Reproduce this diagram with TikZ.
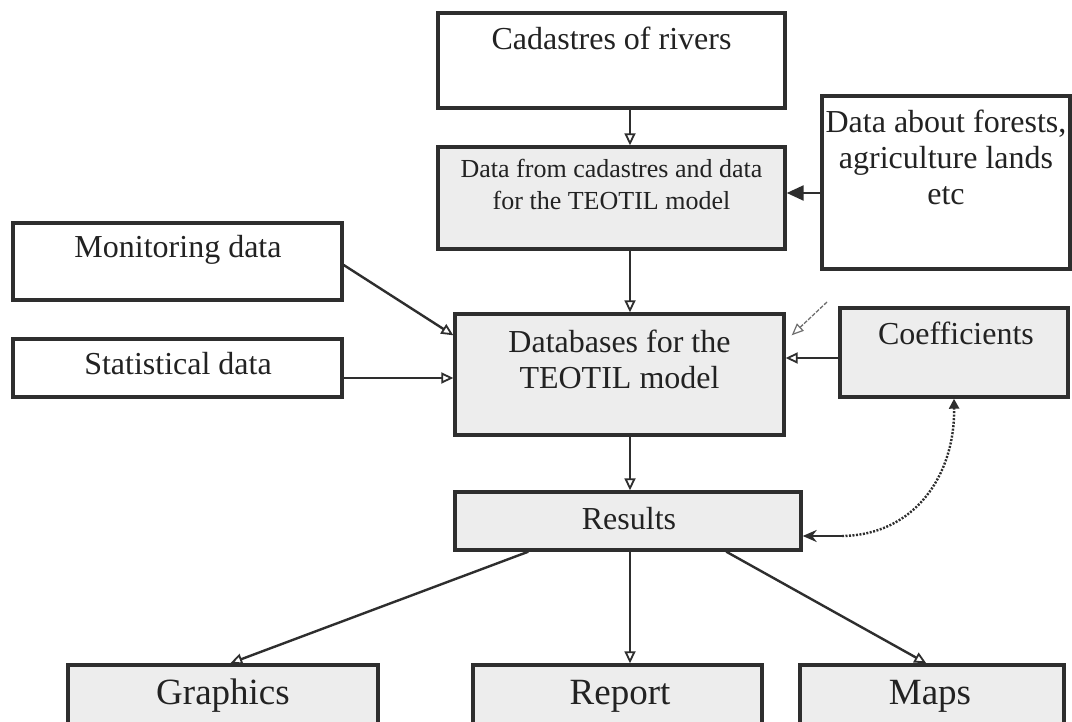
\documentclass[tikz,border=0pt]{standalone}
\usepackage{fontspec}
\setmainfont{Liberation Serif}
\usetikzlibrary{arrows.meta,calc}
\definecolor{ink}{HTML}{2E2E2E}
\definecolor{boxfill}{HTML}{EDEDED}
\definecolor{txt}{HTML}{222222}
\begin{document}
\begin{tikzpicture}[x=1pt,y=-1pt,
  box/.style={draw=ink, line width=3.4pt, rectangle, inner sep=0pt},
  wbox/.style={box, fill=white},
  gbox/.style={box, fill=boxfill},
  lbl/.style={text=txt, font=\fontsize{32}{36}\selectfont, align=center, inner sep=0pt},
  slbl/.style={lbl, font=\fontsize{26}{32}\selectfont},
  blbl/.style={lbl, font=\fontsize{37}{40}\selectfont},
  conn/.style={draw=ink, line width=2.4pt},
  oarr/.style={conn, -{Triangle[open, length=12pt, width=11pt, line width=1.8pt]}},
  farr/.style={conn, -{Triangle[length=17pt, width=15pt]}},
  sarr/.style={conn, -{Stealth[length=14pt, width=12pt]}},
  thinarr/.style={draw=ink!70, line width=1.3pt, dash pattern=on 4pt off 1.5pt, -{Triangle[open, length=12pt, width=10pt, line width=1.2pt]}},
  dotarr/.style={draw=ink, line width=2.4pt, dash pattern=on 2pt off 1.5pt, -{Triangle[length=10pt, width=10pt]}}
]
\useasboundingbox (0,0) rectangle (1072,722);
\clip (0,0) rectangle (1072,722);
\fill[white] (0,0) rectangle (1072,722);

% boxes
\node[wbox, minimum width=347pt, minimum height=95pt]  (cad)  at (611.5,60.5) {};
\node[gbox, minimum width=347pt, minimum height=102pt] (dfc)  at (611.5,198) {};
\node[wbox, minimum width=248pt, minimum height=173pt] (for)  at (946,182.5) {};
\node[wbox, minimum width=329pt, minimum height=77pt]  (mon)  at (177.5,261.5) {};
\node[wbox, minimum width=329pt, minimum height=58pt]  (stat) at (177.5,368) {};
\node[gbox, minimum width=329pt, minimum height=121pt] (db)   at (619.5,374.5) {};
\node[gbox, minimum width=228pt, minimum height=89pt]  (coef) at (954,352.5) {};
\node[gbox, minimum width=346pt, minimum height=58pt]  (res)  at (628,521) {};
\node[gbox, minimum width=310pt, minimum height=70pt]  (gra)  at (223,700) {};
\node[gbox, minimum width=289pt, minimum height=70pt]  (rep)  at (617.5,700) {};
\node[gbox, minimum width=264pt, minimum height=70pt]  (maps) at (932,700) {};

% texts
\node[lbl]  (cadT)  at (611.5,38)  {Cadastres of rivers};
\node[slbl] (dfcT)  at (611.5,184) {Data from cadastres and data\\for the TEOTIL model};
\node[lbl]  (forT)  at (946,157)   {Data about forests,\\agriculture lands\\etc};
\node[lbl]  (monT)  at (178,250)   {Monitoring data};
\node[lbl]  (statT) at (178,364)   {Statistical data};
\node[lbl]  (dbT)   at (619.5,359) {Databases for the\\TEOTIL model};
\node[lbl]  (coefT) at (956,333)   {Coefficients};
\node[lbl]  (resT)  at (629,519)   {Results};
\node[blbl] (graT)  at (223,696)   {Graphics};
\node[blbl] (repT)  at (620,696)   {Report};
\node[blbl] (mapsT) at (930,696)   {Maps};

% connectors
\coordinate (axis) at (630,0);
\draw[oarr] (cad.south -| axis) -- (dfc.north -| axis);
\draw[oarr] (dfc.south -| axis) -- (db.north -| axis);
\draw[oarr] (db.south -| axis) -- (res.north -| axis);
\draw[oarr] (res.south -| axis) -- (rep.north -| axis);
\draw[farr] ($(for.west)+(0,10.5)$) -- ($(dfc.east)+(0,-5)$);
\draw[oarr] ($(mon.east)+(0,3.5)$) -- ($(db.north west)+(0,23)$);
\draw[oarr] ($(stat.east)+(0,10)$) -- ($(db.west)+(0,3.5)$);
\draw[oarr] ($(coef.west)+(0,5.5)$) -- ($(db.east)+(0,-16.5)$);
\draw[oarr] ($(res.south west)+(75,0)$) -- ($(gra.north west)+(164,0)$);
\draw[oarr] ($(res.south west)+(273,0)$) -- ($(maps.north west)+(128,0)$);
\coordinate (kS) at (827,302);
\draw[thinarr] (kS) -- ($(db.north east)+(6,23)$);
\coordinate (dS) at (842,536);
\draw[sarr] (dS) -- (dS -| res.east);
\draw[dotarr] (dS) .. controls (915,535) and (955,475) .. (coef.south);
\end{tikzpicture}
\end{document}
